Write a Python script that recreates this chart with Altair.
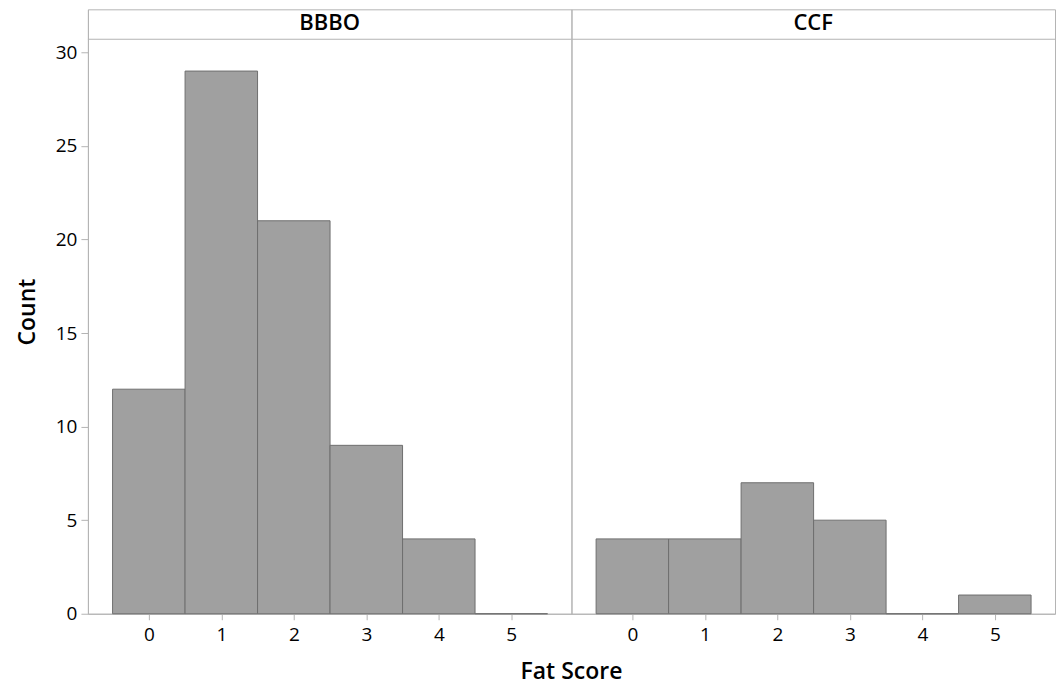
import altair as alt
import pandas as pd

groups = ["BBBO", "CCF"]
scores = [0, 1, 2, 3, 4, 5]
bbbo_counts = [12, 29, 21, 9, 4, 0]
ccf_counts = [4, 4, 7, 5, 0, 1]
y_ticks = [0, 5, 10, 15, 20, 25, 30]

rows = []
for g, counts in zip(groups, [bbbo_counts, ccf_counts]):
    for s, c in zip(scores, counts):
        rows.append({"group": g, "score": s, "count": c})
df = pd.DataFrame(rows)

FONT = "Open Sans"
GRAY = "#b4b4b4"
W = 484
H = 605

base = alt.Chart(df)

bars = base.transform_calculate(
    lo="datum.score - 0.5", hi="datum.score + 0.5"
).mark_bar(color="#a0a0a0", stroke="#6e6e6e", strokeWidth=1).encode(
    x=alt.X("lo:Q",
            scale=alt.Scale(domain=[-0.84, 5.83], nice=False, zero=False),
            axis=alt.Axis(values=scores, title=None, labelFontSize=19, labelFont=FONT,
                          labelColor="black", tickSize=6, labelPadding=6, grid=False)),
    x2="hi:Q",
    y=alt.Y("count:Q",
            scale=alt.Scale(domain=[0, 32.3], nice=False),
            axis=alt.Axis(values=y_ticks, title="Count", titleFontSize=23, titleFont=FONT,
                          titleFontWeight=600, titleColor="black", titlePadding=16,
                          labelFontSize=19, labelFont=FONT, labelColor="black",
                          tickSize=7, labelPadding=4, grid=False)),
    y2=alt.datum(0),
)

strip = base.transform_filter("datum.score == 0").mark_rule(color=GRAY, strokeWidth=1).encode(
    y=alt.datum(30.7)
)

label = base.transform_filter("datum.score == 0").mark_text(
    fontSize=22, font=FONT, fontWeight=600, color="black", baseline="middle"
).encode(
    text="group:N",
    x=alt.value(W / 2),
    y=alt.value(14),
)

chart = alt.layer(bars, strip, label).properties(width=W, height=H).facet(
    column=alt.Column("group:N", sort=groups,
                      header=alt.Header(labels=False, labelPadding=0, title="Fat Score",
                                        titleOrient="bottom",
                                        titleFontSize=23, titleFont=FONT, titleFontWeight=600,
                                        titleColor="black", titlePadding=6)),
    spacing=0,
    bounds="flush",
).properties(
    padding={"left": 8, "top": 0, "right": 0, "bottom": 2}
).configure_view(
    stroke=GRAY, strokeWidth=1
).configure_axis(
    domainColor=GRAY, tickColor=GRAY
)

chart.save("out.html", embed_options={"renderer": "svg", "actions": False})
